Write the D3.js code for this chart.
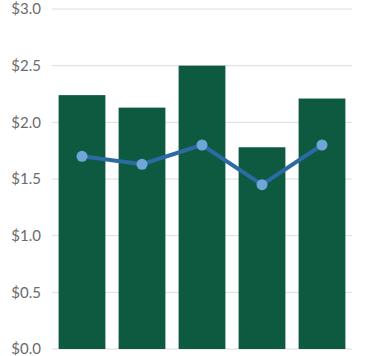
<!DOCTYPE html>
<html><head><meta charset="utf-8">
<script src="https://cdn.jsdelivr.net/npm/d3@7"></script>
<style>body{margin:0;background:#fff}</style>
</head><body><svg id="c" width="382" height="356"></svg>
<script>
const categories = ["A","B","C","D","E"];
const barValues = [2.24, 2.13, 2.50, 1.78, 2.21];
const lineValues = [1.70, 1.63, 1.80, 1.45, 1.80];
const yTicks = [0, 0.5, 1.0, 1.5, 2.0, 2.5, 3.0];

const svg = d3.select("#c");
const x = d3.scaleBand().domain(categories).range([52, 352]).paddingInner(0.22).paddingOuter(0.11);
const y = d3.scaleLinear().domain([0, 3]).range([349, 9]);

const grid = svg.append("g");
grid.selectAll("line").data(yTicks).join("line")
  .attr("x1", 52).attr("x2", 352)
  .attr("y1", d => y(d)).attr("y2", d => y(d))
  .attr("stroke", "#dcdcdc").attr("stroke-width", 1);

const yAxis = d3.axisLeft(y).tickValues(yTicks).tickFormat(d => "$" + d3.format(".1f")(d)).tickSize(0).tickPadding(0);
const ga = svg.append("g").attr("transform", "translate(41,0)").call(yAxis);
ga.select(".domain").remove();
ga.selectAll("text").attr("fill", "#6b6b6b").style("font-family", "Lato, 'Open Sans', sans-serif").style("font-size", "15px");

svg.append("g").selectAll("rect").data(barValues).join("rect")
  .attr("x", (d, i) => x(categories[i]))
  .attr("width", x.bandwidth())
  .attr("y", d => y(d))
  .attr("height", d => y(0) - y(d))
  .attr("fill", "#0d5a41");

const line = d3.line().x((d, i) => x(categories[i]) + x.bandwidth() / 2).y(d => y(d));
svg.append("path").datum(lineValues).attr("d", line)
  .attr("fill", "none").attr("stroke", "#2c6aa3").attr("stroke-width", 4);

svg.append("g").selectAll("circle").data(lineValues).join("circle")
  .attr("cx", (d, i) => x(categories[i]) + x.bandwidth() / 2)
  .attr("cy", d => y(d)).attr("r", 5.5)
  .attr("fill", "#6fa6d8");
</script></body></html>
